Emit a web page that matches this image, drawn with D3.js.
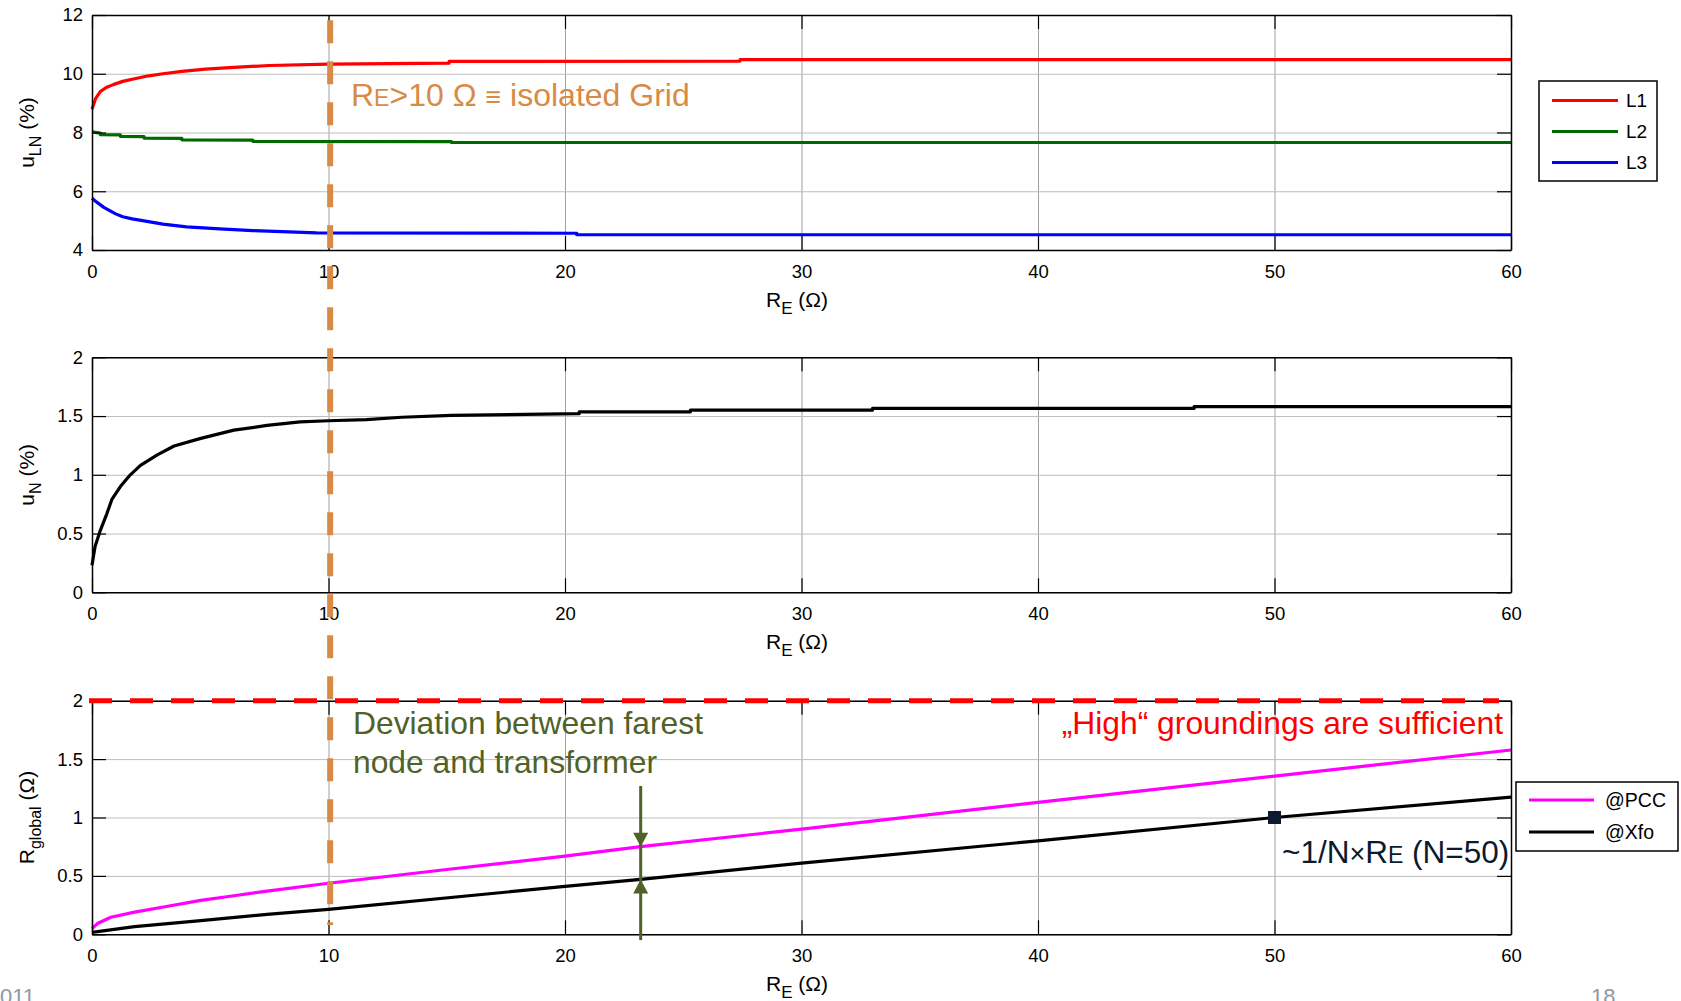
<!DOCTYPE html>
<html>
<head>
<meta charset="utf-8">
<script src="https://cdn.jsdelivr.net/npm/d3@7"></script>
<style>
  body { margin: 0; background: #fff; }
  svg { font-family: "Liberation Sans", Arial, sans-serif; }
</style>
</head>
<body>
<svg id="pic" width="1681" height="1001"></svg>
<script>
// x ticks shared by all panels
var xTicks = [0, 10, 20, 30, 40, 50, 60];
var yTicksTop = [4, 6, 8, 10, 12];
var yTicksMid = [0, 0.5, 1, 1.5, 2];
var yTicksBot = [0, 0.5, 1, 1.5, 2];

// panel 1: u_LN (%)
var l1X = [0, 0.15, 0.35, 0.6, 0.9, 1.3, 1.8, 2.4, 3.0, 3.8, 4.8, 6.0, 7.5, 10, 15.1, 15.1, 27.4, 27.4, 60];
var l1Y = [8.79, 9.15, 9.39, 9.53, 9.63, 9.74, 9.83, 9.93, 10.0, 10.08, 10.16, 10.22, 10.28, 10.33, 10.36, 10.42, 10.43, 10.48, 10.48];
var l2X = [0, 0.35, 0.35, 1.2, 1.2, 2.2, 2.2, 3.8, 3.8, 6.8, 6.8, 15.2, 15.2, 60];
var l2Y = [8.02, 7.98, 7.93, 7.92, 7.87, 7.86, 7.81, 7.80, 7.75, 7.74, 7.70, 7.69, 7.66, 7.66];
var l3X = [0, 0.15, 0.3, 0.5, 0.75, 1.0, 1.3, 1.7, 2.2, 3.0, 4.0, 5.4, 6.8, 9.5, 20.5, 20.5, 60];
var l3Y = [5.76, 5.66, 5.57, 5.45, 5.34, 5.23, 5.13, 5.06, 4.99, 4.88, 4.79, 4.72, 4.66, 4.58, 4.57, 4.52, 4.52];

// panel 2: u_N (%)
var unX = [0, 0.13, 0.34, 0.63, 0.84, 1.2, 1.62, 2.05, 2.76, 3.47, 4.6, 6.0, 7.4, 8.8, 10, 11.6, 13.1, 15.2, 20.6, 20.6, 25.3, 25.3, 33, 33, 46.6, 46.6, 60];
var unY = [0.23, 0.39, 0.52, 0.67, 0.79, 0.90, 1.0, 1.08, 1.17, 1.245, 1.31, 1.38, 1.42, 1.45, 1.46, 1.47, 1.49, 1.505, 1.52, 1.535, 1.535, 1.55, 1.55, 1.565, 1.565, 1.58, 1.58];

// panel 3: R_global (Ohm)
var pccX = [0, 0.25, 0.8, 1.8, 3.2, 4.6, 6.0, 7.4, 10, 15, 20, 23.2, 30, 40, 50, 60];
var pccY = [0.05, 0.094, 0.146, 0.19, 0.24, 0.29, 0.33, 0.37, 0.437, 0.555, 0.67, 0.75, 0.90, 1.13, 1.355, 1.578];
var xfoX = [0, 1.8, 4.6, 7.4, 10, 20, 23.2, 30, 40, 50, 60];
var xfoY = [0.017, 0.065, 0.117, 0.17, 0.214, 0.41, 0.47, 0.61, 0.80, 1.0, 1.175];

// annotations
var isolatedRE = 10.07;
var limitR = 2;
var arrowRE = 23.2;
var markRE = 50, markR = 1;

var svg = d3.select("#pic");
var x = d3.scaleLinear().domain([0, 60]).range([92, 1511]);

var panels = [
  {y: d3.scaleLinear().domain([4, 12]).range([250, 15]), ticks: yTicksTop, label: ["u", "LN", " (%)"]},
  {y: d3.scaleLinear().domain([0, 2]).range([592.3, 357.3]), ticks: yTicksMid, label: ["u", "N", " (%)"]},
  {y: d3.scaleLinear().domain([0, 2]).range([934.3, 700.7]), ticks: yTicksBot, label: ["R", "global", " (\u03A9)"]}
];

function pts(xs, ys) { return xs.map(function(d, i){ return [d, ys[i]]; }); }

panels.forEach(function(p) {
  var y = p.y;
  var top = y.range()[1], bot = y.range()[0];
  var h = bot - top, w = x.range()[1] - x.range()[0];
  var g = svg.append("g");

  // grid
  g.append("g").attr("transform", "translate(0," + bot + ")")
    .call(d3.axisBottom(x).tickValues(xTicks).tickSize(-h).tickFormat(""))
    .call(function(s){ s.select(".domain").remove(); s.selectAll("line").attr("stroke", "#a0a0a0").attr("stroke-width", 1); });
  g.append("g").attr("transform", "translate(" + x.range()[0] + ",0)")
    .call(d3.axisLeft(y).tickValues(p.ticks).tickSize(-w).tickFormat(""))
    .call(function(s){ s.select(".domain").remove(); s.selectAll("line").attr("stroke", "#bdbdbd").attr("stroke-width", 1); });
  p.g = g;
});

var line = d3.line().x(function(d){ return x(d[0]); });

function drawLine(p, data, color) {
  p.g.append("path")
    .datum(data)
    .attr("fill", "none")
    .attr("stroke", color)
    .attr("stroke-width", 3.2)
    .attr("stroke-linejoin", "round")
    .attr("d", line.y(function(d){ return p.y(d[1]); }));
}

drawLine(panels[0], pts(l1X, l1Y), "#ff0000");
drawLine(panels[0], pts(l2X, l2Y), "#006a00");
drawLine(panels[0], pts(l3X, l3Y), "#0000ff");
drawLine(panels[1], pts(unX, unY), "#000000");
drawLine(panels[2], pts(pccX, pccY), "#ff00ff");
drawLine(panels[2], pts(xfoX, xfoY), "#000000");

// axes with inward ticks on all four sides
panels.forEach(function(p) {
  var y = p.y, g = p.g;
  var top = y.range()[1], bot = y.range()[0];
  var fmt = function(d){ return String(d); };
  var bx = g.append("g").attr("transform", "translate(0," + bot + ")")
    .call(d3.axisBottom(x).tickValues(xTicks).tickSize(-14).tickSizeOuter(0).tickPadding(15).tickFormat(fmt));
  var tx = g.append("g").attr("transform", "translate(0," + top + ")")
    .call(d3.axisTop(x).tickValues(xTicks).tickSize(-14).tickSizeOuter(0).tickFormat(""));
  var ly = g.append("g").attr("transform", "translate(" + x.range()[0] + ",0)")
    .call(d3.axisLeft(y).tickValues(p.ticks).tickSize(-14).tickSizeOuter(0).tickPadding(9).tickFormat(fmt));
  var ry = g.append("g").attr("transform", "translate(" + x.range()[1] + ",0)")
    .call(d3.axisRight(y).tickValues(p.ticks).tickSize(-14).tickSizeOuter(0).tickFormat(""));
  [bx, tx, ly, ry].forEach(function(a){
    a.select(".domain").attr("stroke", "#000").attr("stroke-width", 1.5);
    a.selectAll("line").attr("stroke", "#000").attr("stroke-width", 1.2);
    a.selectAll("text").attr("font-size", 18.5).attr("font-family", "Liberation Sans, Arial, sans-serif").attr("fill", "#000");
  });

  // x label
  var xl = g.append("text").attr("x", 797).attr("y", bot + 56.7)
    .attr("text-anchor", "middle").attr("font-size", 21);
  xl.append("tspan").text("R");
  xl.append("tspan").attr("font-size", 17).attr("dy", 7).text("E");
  xl.append("tspan").attr("dy", -7).text(" (\u03A9)");

  // y label
  var cy = (top + bot) / 2;
  var yl = g.append("text").attr("transform", "translate(34," + cy + ") rotate(-90)")
    .attr("text-anchor", "middle").attr("font-size", 21);
  yl.append("tspan").text(p.label[0]);
  yl.append("tspan").attr("font-size", 16).attr("dy", 7).text(p.label[1]);
  yl.append("tspan").attr("dy", -7).text(p.label[2]);
});

// legends
function legend(x0, y0, w, h, items, fs, lx0, lx1, tx) {
  var g = svg.append("g");
  g.append("rect").attr("x", x0).attr("y", y0).attr("width", w).attr("height", h)
    .attr("fill", "#fff").attr("stroke", "#000").attr("stroke-width", 1.5);
  items.forEach(function(it) {
    g.append("line").attr("x1", lx0).attr("x2", lx1).attr("y1", it.y).attr("y2", it.y)
      .attr("stroke", it.color).attr("stroke-width", 3.2);
    g.append("text").attr("x", tx).attr("y", it.y).attr("dy", "0.35em")
      .attr("font-size", fs).text(it.name);
  });
}
var legendTopNames = ["L1", "L2", "L3"];
var legendTopColors = ["#ff0000", "#006a00", "#0000ff"];
legend(1539, 81, 118, 100, legendTopNames.map(function(n, i){ return {name: n, color: legendTopColors[i], y: 100.5 + i * 31}; }),
  19, 1552, 1618, 1626);
var legendBotNames = ["@PCC", "@Xfo"];
var legendBotColors = ["#ff00ff", "#000000"];
legend(1516, 782, 162, 69, legendBotNames.map(function(n, i){ return {name: n, color: legendBotColors[i], y: 800 + i * 32}; }),
  19.5, 1529, 1594, 1605);

var yT = panels[0].y, yB = panels[2].y;

// red dashed limit line
svg.append("line")
  .attr("x1", 89).attr("x2", 1499)
  .attr("y1", yB(limitR)).attr("y2", yB(limitR))
  .attr("stroke", "#ff0000").attr("stroke-width", 5).attr("stroke-dasharray", "23,18");

// orange dashed vertical line through all panels
svg.append("line")
  .attr("x1", x(isolatedRE)).attr("x2", x(isolatedRE))
  .attr("y1", yT(11.82)).attr("y2", yB(0.08))
  .attr("stroke", "#d98a45").attr("stroke-width", 6).attr("stroke-dasharray", "23,18");

// text annotations
var t1 = svg.append("text").attr("x", 351).attr("y", 106).attr("font-size", 32).attr("fill", "#d98a45");
t1.append("tspan").text("R");
t1.append("tspan").attr("font-size", 23).text("E");
t1.append("tspan").text(">10 \u03A9 ");
t1.append("tspan").attr("font-size", 27).text("\u2261");
t1.append("tspan").text(" isolated Grid");

svg.append("text").attr("x", 353).attr("y", 734).attr("font-size", 31.8).attr("fill", "#4f6228")
  .text("Deviation between farest");
svg.append("text").attr("x", 353).attr("y", 772.7).attr("font-size", 31.8).attr("fill", "#4f6228")
  .text("node and transformer");

svg.append("text").attr("x", 1503).attr("y", 734).attr("font-size", 31.8).attr("fill", "#ff0000")
  .attr("text-anchor", "end").text("\u201EHigh\u201C groundings are sufficient");

var t4 = svg.append("text").attr("x", 1282).attr("y", 862.7).attr("font-size", 31.5).attr("fill", "#0c1a2e");
t4.append("tspan").text("~1/N");
t4.append("tspan").attr("font-size", 27).text("\u00D7");
t4.append("tspan").text("R");
t4.append("tspan").attr("font-size", 23).text("E");
t4.append("tspan").text(" (N=50)");

// marker at N=50
svg.append("rect")
  .attr("x", x(markRE) - 6.5).attr("y", yB(markR) - 6.5)
  .attr("width", 13).attr("height", 13).attr("fill", "#0c1a2e");

// green deviation arrows
var ax = x(arrowRE);
var green = "#4f6228";
svg.append("line").attr("x1", ax).attr("x2", ax).attr("y1", yB(1.27)).attr("y2", yB(-0.05))
  .attr("stroke", green).attr("stroke-width", 3);
var tipDown = yB(0.75), tipUp = yB(0.47);
svg.append("path").attr("fill", green)
  .attr("d", "M" + (ax - 7.5) + "," + (tipDown - 14) + "L" + (ax + 7.5) + "," + (tipDown - 14) + "L" + ax + "," + tipDown + "Z");
svg.append("path").attr("fill", green)
  .attr("d", "M" + (ax - 7.5) + "," + (tipUp + 14) + "L" + (ax + 7.5) + "," + (tipUp + 14) + "L" + ax + "," + tipUp + "Z");

// slide footer
svg.append("text").attr("x", 0).attr("y", 1004).attr("font-size", 22).attr("fill", "#8c98a4").text("011");
svg.append("text").attr("x", 1591).attr("y", 1004).attr("font-size", 22).attr("fill", "#8c98a4").text("18");
</script>
</body>
</html>
